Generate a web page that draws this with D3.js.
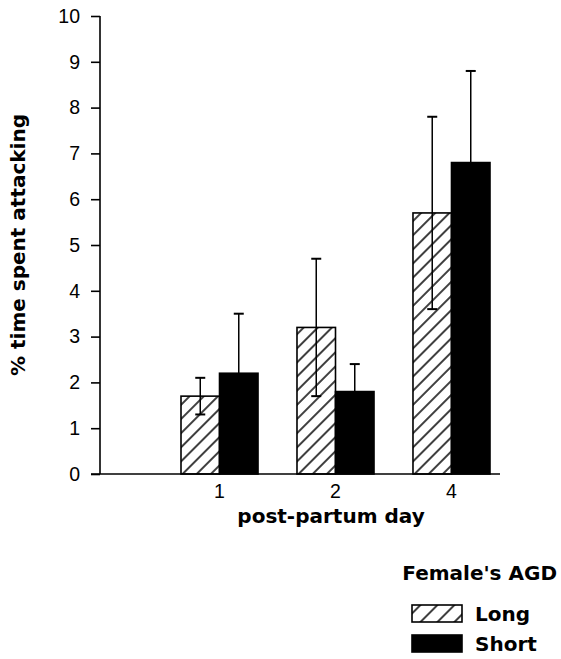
<!DOCTYPE html>
<html>
<head>
<meta charset="utf-8">
<script src="https://cdn.jsdelivr.net/npm/d3@7"></script>
<style>
  body { margin: 0; background: #fff; }
  svg { display: block; font-family: "DejaVu Sans", sans-serif; }
  .axis text { font-size: 19.5px; fill: #000; }
  .axis line, .axis path { stroke: #000; stroke-width: 1.6; }
  .bold { font-weight: bold; font-size: 20px; fill: #000; }
</style>
</head>
<body>
<svg id="chart" width="561" height="659"></svg>
<script>
// post-partum days and the two AGD groups
var days = ["1", "2", "4"];
var groups = ["Long", "Short"];
// mean % time spent attacking
var longMeans = [1.7, 3.2, 5.7];
var shortMeans = [2.2, 1.8, 6.8];
// standard errors
var longErr = [0.4, 1.5, 2.1];
var shortErr = [1.3, 0.6, 2.0];
var yTicks = [0, 1, 2, 3, 4, 5, 6, 7, 8, 9, 10];

var svg = d3.select("#chart"),
    margin = {top: 16, right: 61, bottom: 185, left: 100},
    width = +svg.attr("width") - margin.left - margin.right,
    height = +svg.attr("height") - margin.top - margin.bottom,
    g = svg.append("g").attr("transform", "translate(" + margin.left + "," + margin.top + ")");

var defs = svg.append("defs");
defs.append("pattern")
    .attr("id", "hatch")
    .attr("patternUnits", "userSpaceOnUse")
    .attr("width", 10).attr("height", 10)
    .attr("patternTransform", "rotate(45)")
    .append("line")
    .attr("x1", 5).attr("y1", 0).attr("x2", 5).attr("y2", 10)
    .attr("stroke", "#000").attr("stroke-width", 1.5);
defs.append("pattern")
    .attr("id", "hatchLegend")
    .attr("patternUnits", "userSpaceOnUse")
    .attr("width", 12).attr("height", 12)
    .attr("patternTransform", "rotate(45)")
    .append("line")
    .attr("x1", 6).attr("y1", 0).attr("x2", 6).attr("y2", 12)
    .attr("stroke", "#000").attr("stroke-width", 1.5);

var data = days.map(function (d, i) {
    return {
        day: d,
        values: [
            {group: "Long", mean: longMeans[i], err: longErr[i]},
            {group: "Short", mean: shortMeans[i], err: shortErr[i]}
        ]
    };
});

var x0 = d3.scaleBand().domain(days).range([81, 390]).paddingInner(0.336).paddingOuter(0),
    x1 = d3.scaleBand().domain(groups).range([0, x0.bandwidth()]),
    y = d3.scaleLinear().domain([0, 10]).range([height, 0]);

var fill = {Long: "url(#hatch)", Short: "#000"};

// y axis
g.append("g")
    .attr("class", "axis axis--y")
    .call(d3.axisLeft(y).tickValues(yTicks).tickSize(9).tickPadding(11).tickSizeOuter(0))
    .select(".domain").remove();
g.append("line")
    .attr("stroke", "#000").attr("stroke-width", 1.6)
    .attr("x1", 0).attr("x2", 0)
    .attr("y1", y(10)).attr("y2", y(0));

// bars
var day = g.selectAll(".day")
    .data(data)
    .enter().append("g")
    .attr("class", "day")
    .attr("transform", function (d) { return "translate(" + x0(d.day) + ",0)"; });

day.selectAll("rect")
    .data(function (d) { return d.values; })
    .enter().append("rect")
    .attr("x", function (d) { return x1(d.group); })
    .attr("width", x1.bandwidth())
    .attr("y", function (d) { return y(d.mean); })
    .attr("height", function (d) { return y(0) - y(d.mean); })
    .attr("fill", function (d) { return fill[d.group]; })
    .attr("stroke", "#000")
    .attr("stroke-width", 1.6);

// error bars
var eb = day.selectAll(".err")
    .data(function (d) { return d.values; })
    .enter().append("g")
    .attr("class", "err")
    .attr("stroke", "#000");
eb.append("line")
    .attr("stroke-width", 1.5)
    .attr("x1", function (d) { return x1(d.group) + x1.bandwidth() / 2; })
    .attr("x2", function (d) { return x1(d.group) + x1.bandwidth() / 2; })
    .attr("y1", function (d) { return y(d.mean - d.err); })
    .attr("y2", function (d) { return y(d.mean + d.err); });
[1, -1].forEach(function (s) {
    eb.append("line")
        .attr("stroke-width", 2)
        .attr("x1", function (d) { return x1(d.group) + x1.bandwidth() / 2 - 5; })
        .attr("x2", function (d) { return x1(d.group) + x1.bandwidth() / 2 + 5; })
        .attr("y1", function (d) { return y(d.mean + s * d.err); })
        .attr("y2", function (d) { return y(d.mean + s * d.err); });
});

// x axis
var xAxis = g.append("g")
    .attr("class", "axis axis--x")
    .attr("transform", "translate(0," + height + ")")
    .call(d3.axisBottom(x0).tickSize(0).tickPadding(10));
xAxis.select(".domain").remove();
xAxis.append("line")
    .attr("stroke", "#000").attr("stroke-width", 1.6)
    .attr("x1", -9).attr("x2", width);

// axis titles
g.append("text")
    .attr("class", "bold")
    .attr("transform", "translate(-75," + (height / 2) + ") rotate(-90)")
    .attr("text-anchor", "middle")
    .text("% time spent attacking");
g.append("text")
    .attr("class", "bold")
    .attr("x", 231)
    .attr("y", height + 49)
    .attr("text-anchor", "middle")
    .text("post-partum day");

// legend
var legend = svg.append("g").attr("transform", "translate(412,580)");
legend.append("text")
    .attr("class", "bold")
    .attr("x", 145)
    .attr("text-anchor", "end")
    .text("Female's AGD");
var item = legend.selectAll(".item")
    .data(groups)
    .enter().append("g")
    .attr("class", "item")
    .attr("transform", function (d, i) { return "translate(0," + (25 + i * 30) + ")"; });
item.append("rect")
    .attr("width", 50).attr("height", 17)
    .attr("fill", function (d) { return d === "Long" ? "url(#hatchLegend)" : "#000"; })
    .attr("stroke", "#000").attr("stroke-width", 1.6);
item.append("text")
    .attr("class", "bold")
    .attr("x", 63).attr("y", 16)
    .text(function (d) { return d; });
</script>
</body>
</html>
